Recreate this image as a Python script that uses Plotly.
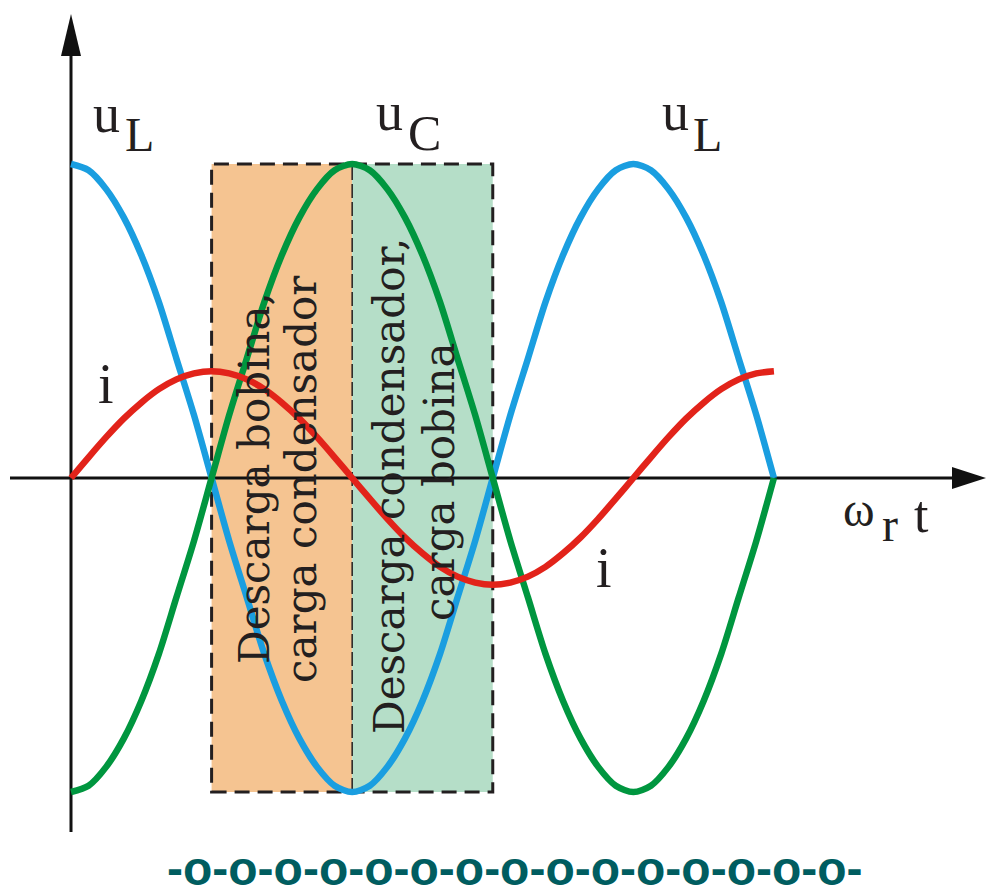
import plotly.graph_objects as go

# ---- data (phase in multiples of pi, values normalised) ----
phase_pi = [k / 16 for k in range(41)]  # 0 .. 2.5 pi in steps of pi/16
u_L = [1.00, 0.98, 0.92, 0.83, 0.71, 0.56, 0.38, 0.20, 0.00, -0.20, -0.38, -0.56, -0.71, -0.83, -0.92, -0.98,
       -1.00, -0.98, -0.92, -0.83, -0.71, -0.56, -0.38, -0.20, 0.00, 0.20, 0.38, 0.56, 0.71, 0.83, 0.92, 0.98,
       1.00, 0.98, 0.92, 0.83, 0.71, 0.56, 0.38, 0.20, 0.00]
u_C = [-1.00, -0.98, -0.92, -0.83, -0.71, -0.56, -0.38, -0.20, 0.00, 0.20, 0.38, 0.56, 0.71, 0.83, 0.92, 0.98,
       1.00, 0.98, 0.92, 0.83, 0.71, 0.56, 0.38, 0.20, 0.00, -0.20, -0.38, -0.56, -0.71, -0.83, -0.92, -0.98,
       -1.00, -0.98, -0.92, -0.83, -0.71, -0.56, -0.38, -0.20, 0.00]
i_cur = [0.000, 0.066, 0.130, 0.189, 0.240, 0.283, 0.314, 0.333, 0.340, 0.333, 0.314, 0.283, 0.240, 0.189,
         0.130, 0.066, 0.000, -0.066, -0.130, -0.189, -0.240, -0.283, -0.314, -0.333, -0.340, -0.333, -0.314,
         -0.283, -0.240, -0.189, -0.130, -0.066, 0.000, 0.066, 0.130, 0.189, 0.240, 0.283, 0.314, 0.333, 0.340]

# shaded intervals (in multiples of pi)
zone_charge_C = [0.5, 1.0]
zone_charge_L = [1.0, 1.5]
zone_text_1 = ["Descarga bobina,", "carga condensador"]
zone_text_2 = ["Descarga condensador,", "carga bobina"]
bottom_text = "-" + "o-" * 15

PI = 3.141592653589793
x = [p * PI for p in phase_pi]

# ---- layout geometry (screen pixel <-> data); page body has an 8px margin ----
SW, SH = 996, 895
OFF = 8
W, H = SW - OFF, SH - OFF
X0PX, PXR = 71, 89.5          # x=0 at screen px 71, 89.5 px per radian
Y0PX, PXU = 478, 314          # y=0 at screen px 478, 314 px per unit


def X(px):
    return (px - X0PX) / PXR


def Y(py):
    return (Y0PX - py) / PXU


xr = [X(OFF), X(SW)]
yr = [Y(SH), Y(OFF)]

BLUE = "#1a9ee0"
GREEN = "#00963f"
RED = "#e2231a"
ORANGE_F = "#f5c491"
GREEN_F = "#b5dec8"
INK = "#231f20"

fig = go.Figure()
for ys, col in ((u_L, BLUE), (u_C, GREEN), (i_cur, RED)):
    fig.add_trace(go.Scatter(x=x, y=ys, mode="lines",
                             line=dict(color=col, width=6.5, shape="spline", smoothing=0.8),
                             hoverinfo="skip"))

amp = max(u_L)
shapes = []
shapes.append(dict(type="rect", xref="x", yref="y", x0=zone_charge_C[0] * PI, x1=zone_charge_C[1] * PI,
                   y0=-amp, y1=amp, fillcolor=ORANGE_F, line=dict(width=0), layer="below"))
shapes.append(dict(type="rect", xref="x", yref="y", x0=zone_charge_L[0] * PI, x1=zone_charge_L[1] * PI,
                   y0=-amp, y1=amp, fillcolor=GREEN_F, line=dict(width=0), layer="below"))
shapes.append(dict(type="rect", xref="x", yref="y", x0=zone_charge_C[0] * PI, x1=zone_charge_L[1] * PI,
                   y0=-amp, y1=amp, fillcolor="rgba(0,0,0,0)",
                   line=dict(color=INK, width=3, dash="15px,8px"), layer="below"))
shapes.append(dict(type="line", xref="x", yref="y", x0=zone_charge_C[1] * PI, x1=zone_charge_C[1] * PI,
                   y0=-amp, y1=amp, line=dict(color=INK, width=1.5, dash="14px,4px"), layer="below"))
# axes with arrows
shapes.append(dict(type="line", xref="x", yref="y", x0=X(10), x1=X(960), y0=0, y1=0,
                   line=dict(color="#111", width=3), layer="below"))
shapes.append(dict(type="path", xref="x", yref="y",
                   path=f"M {X(952)},{Y(467)} L {X(986)},{Y(478)} L {X(952)},{Y(489)} Z",
                   fillcolor="#111", line=dict(width=0), layer="below"))
shapes.append(dict(type="line", xref="x", yref="y", x0=0, x1=0, y0=Y(832), y1=Y(50),
                   line=dict(color="#111", width=3), layer="below"))
shapes.append(dict(type="path", xref="x", yref="y",
                   path=f"M {X(61)},{Y(56)} L {X(71)},{Y(14)} L {X(81)},{Y(56)} Z",
                   fillcolor="#111", line=dict(width=0), layer="below"))

SERIF = "Liberation Serif"
ann = []


def lab(text, px, py, size, family=SERIF, color=INK, angle=0):
    ann.append(dict(text=text, x=X(px), y=Y(py), xref="x", yref="y", showarrow=False,
                    xanchor="center", yanchor="middle", textangle=angle,
                    font=dict(family=family, size=size, color=color)))


# labels
lab("u", 106, 114, 54)
lab("L", 139, 134, 48)
lab("u", 389, 112, 54)
lab("C", 424, 133, 50)
lab("u", 675, 112, 54)
lab("L", 707, 134, 48)
lab("i", 106, 384, 56)
lab("i", 604, 568, 56)
lab("\u03c9", 859, 509, 48)
lab("r", 890, 524, 48)
lab("t", 921, 514, 52)

# rotated zone texts
lab(zone_text_1[0], 254, 478, 42, family="DejaVu Serif", angle=-90)
lab(zone_text_1[1], 301, 479, 42, family="DejaVu Serif", angle=-90)
lab(zone_text_2[0], 389, 486, 42, family="DejaVu Serif", angle=-90)
lab(zone_text_2[1], 439, 482, 42, family="DejaVu Serif", angle=-90)

# bottom decoration
ann.append(dict(text=f"<b>{bottom_text}</b>", x=X(515), y=Y(868), xref="x", yref="y",
                showarrow=False, xanchor="center", yanchor="middle",
                font=dict(family="Liberation Sans", size=48, color="#005d60")))

fig.update_layout(
    width=W, height=H, margin=dict(l=0, r=0, t=0, b=0),
    paper_bgcolor="white", plot_bgcolor="white", showlegend=False,
    xaxis=dict(range=xr, visible=False, fixedrange=True),
    yaxis=dict(range=yr, visible=False, fixedrange=True),
    shapes=shapes, annotations=ann,
)

fig.write_html("out.html")
